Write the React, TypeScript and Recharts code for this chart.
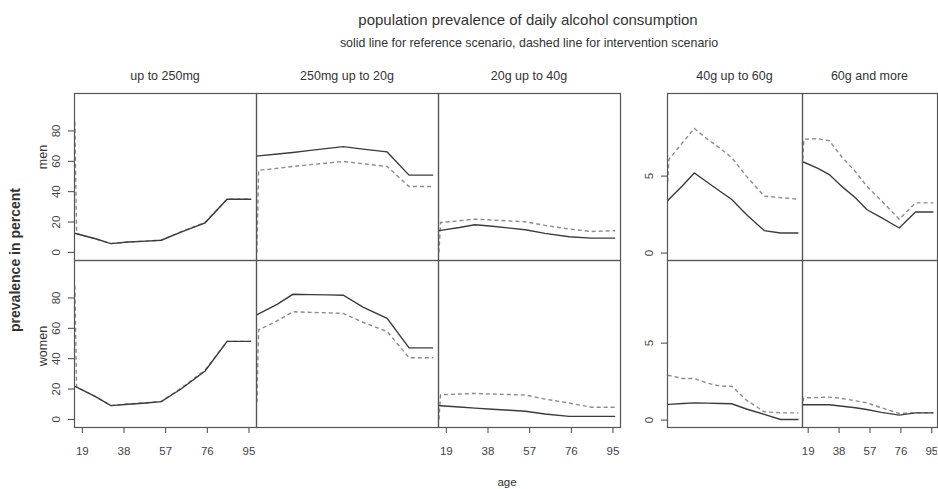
import { Line, LineChart, XAxis, YAxis } from "recharts";

const AGES = [15.6, 16.4, 25, 32, 40, 48, 55, 64, 75, 85, 96];
const AGE_TICKS = [19, 38, 57, 76, 95];
const LOW_TICKS = [0, 20, 40, 60, 80];
const HIGH_TICKS = [0, 5];

const CATEGORIES = [
  "up to 250mg",
  "250mg up to 20g",
  "20g up to 40g",
  "40g up to 60g",
  "60g and more",
];
const SEXES = ["men", "women"];

// up to 250mg
const c1MenRef = [12.5, 12.3, 9, 5.8, 6.9, 7.4, 8, 13.4, 19.5, 35, 35];
const c1MenInt = [86, 12.3, 9, 5.8, 6.9, 7.4, 8, 13.6, 19.8, 35, 35];
const c1WomenRef = [21.7, 21.2, 15, 9.1, 10, 10.8, 11.7, 20, 31.9, 51.4, 51.4];
const c1WomenInt = [88, 21.2, 15, 9.1, 10.2, 11, 11.8, 20.5, 32.5, 51.4, 51.4];

// 250mg up to 20g
const c2MenRef = [63.5, 63.6, 64.8, 65.8, 67.2, 68.5, 69.7, 68, 66.2, 50.9, 50.9];
const c2MenInt = [0, 54.1, 55.4, 56.6, 57.8, 58.9, 59.9, 58.4, 56.6, 43.4, 43.4];
const c2WomenRef = [68.8, 69.5, 76, 82.4, 82.2, 82, 81.8, 74, 66.6, 47.1, 47.1];
const c2WomenInt = [11.3, 59, 65, 70.9, 70.5, 70.2, 69.8, 64, 57.9, 40.6, 40.6];

// 20g up to 40g
const c3MenRef = [14.3, 14.5, 16.4, 18.2, 17.2, 16, 14.9, 12.5, 10.3, 9.4, 9.4];
const c3MenInt = [0, 19.7, 20.8, 21.9, 21.3, 20.7, 20.2, 17.8, 15.4, 13.8, 14.3];
const c3WomenRef = [9.1, 9, 8.2, 7.4, 6.7, 6, 5.4, 3.6, 2, 2, 2];
const c3WomenInt = [0, 16.3, 16.7, 17.1, 16.7, 16.4, 16.1, 13.4, 10.8, 8, 8];

// 40g up to 60g
const c4MenRef = [3.37, 3.5, 4.4, 5.2, 4.6, 4, 3.48, 2.5, 1.46, 1.3, 1.3];
const c4MenInt = [4.6, 6.1, 7.2, 8.1, 7.4, 6.8, 6.2, 5, 3.7, 3.6, 3.5];
const c4WomenRef = [1, 1.02, 1.08, 1.12, 1.1, 1.08, 1.06, 0.72, 0.37, 0.04, 0.04];
const c4WomenInt = [2.9, 2.9, 2.7, 2.7, 2.4, 2.2, 2.2, 1.3, 0.54, 0.47, 0.47];

// 60g and more
const c5MenRef = [5.93, 5.9, 5.5, 5.1, 4.3, 3.6, 2.83, 2.3, 1.63, 2.67, 2.67];
const c5MenInt = [6.1, 7.4, 7.43, 7.3, 6.2, 5.3, 4.35, 3.4, 2.2, 3.26, 3.26];
const c5WomenRef = [1, 1, 1, 1, 0.9, 0.8, 0.69, 0.5, 0.32, 0.47, 0.47];
const c5WomenInt = [1.2, 1.44, 1.47, 1.49, 1.4, 1.25, 1.12, 0.8, 0.43, 0.47, 0.47];

const SERIES = [
  [[c1MenRef, c1MenInt], [c1WomenRef, c1WomenInt]],
  [[c2MenRef, c2MenInt], [c2WomenRef, c2WomenInt]],
  [[c3MenRef, c3MenInt], [c3WomenRef, c3WomenInt]],
  [[c4MenRef, c4MenInt], [c4WomenRef, c4WomenInt]],
  [[c5MenRef, c5MenInt], [c5WomenRef, c5WomenInt]],
];

// layout
const FONT = "'Liberation Sans', Arial, sans-serif";
const COL_X = [74, 256, 438, 667, 802];
const COL_W = [182, 182, 182, 135, 135];
const ROW_Y = [93, 260];
const ROW_H = 167;
const AGE_DOMAIN = [15.2, 98.2];
const LOW_DOMAIN = [-5, 105];
const HIGH_DOMAIN = [-0.45, 10.4];
const AXIS_W = 40;
const AXIS_H = 40;

function Panel({ col, row }: { col: number; row: number }) {
  const showX = row === 1 && (col === 0 || col === 2 || col === 4);
  const showY = col === 0 || col === 3;
  const high = col >= 3;
  const [ref, int] = SERIES[col][row];
  const data = AGES.map((age, i) => ({ age, ref: ref[i], int: int[i] }));
  const width = COL_W[col] + (showY ? AXIS_W : 0);
  const height = ROW_H + (showX ? AXIS_H : 0);

  return (
    <div
      style={{
        position: "absolute",
        left: COL_X[col] - (showY ? AXIS_W : 0),
        top: ROW_Y[row],
      }}
    >
      <LineChart
        width={width}
        height={height}
        data={data}
        margin={{ top: 0, right: 0, bottom: 0, left: 0 }}
      >
        <XAxis
          dataKey="age"
          type="number"
          domain={AGE_DOMAIN}
          ticks={AGE_TICKS}
          interval={0}
          allowDataOverflow
          hide={!showX}
          height={AXIS_H}
          axisLine={false}
          tickSize={6}
          tickMargin={2}
          tickLine={{ stroke: "#444" }}
          tick={(p: any) => (
            <text
              x={p.x}
              y={p.y + 20}
              textAnchor="middle"
              fontSize={11.5}
              fontFamily={FONT}
              fill="#444"
            >
              {p.payload.value}
            </text>
          )}
        />
        <YAxis
          type="number"
          domain={high ? HIGH_DOMAIN : LOW_DOMAIN}
          ticks={high ? HIGH_TICKS : LOW_TICKS}
          interval={0}
          allowDataOverflow
          hide={!showY}
          width={AXIS_W}
          axisLine={false}
          tickSize={6}
          tickMargin={2}
          tickLine={{ stroke: "#444" }}
          tick={(p: any) => (
            <text
              x={p.x - 6}
              y={p.y}
              transform={`rotate(-90 ${p.x - 6} ${p.y})`}
              textAnchor="middle"
              fontSize={11.5}
              fontFamily={FONT}
              fill="#444"
            >
              {p.payload.value}
            </text>
          )}
        />
        <Line
          dataKey="int"
          type="linear"
          stroke="#8c8c8c"
          strokeWidth={1.4}
          strokeDasharray="4 3"
          dot={false}
          isAnimationActive={false}
        />
        <Line
          dataKey="ref"
          type="linear"
          stroke="#3c3c3c"
          strokeWidth={1.4}
          dot={false}
          isAnimationActive={false}
        />
      </LineChart>
    </div>
  );
}

export default function App() {
  return (
    <div
      style={{
        position: "absolute",
        left: 0,
        top: 0,
        width: 938,
        height: 489,
        background: "#fff",
        fontFamily: FONT,
      }}
    >
      {CATEGORIES.map((_, col) =>
        SEXES.map((_, row) => <Panel key={`${col}-${row}`} col={col} row={row} />)
      )}
      <svg
        width={938}
        height={489}
        style={{ position: "absolute", left: 0, top: 0, pointerEvents: "none" }}
        fontFamily={FONT}
      >
        <text x={528} y={25} textAnchor="middle" fontSize={15} fill="#333">
          population prevalence of daily alcohol consumption
        </text>
        <text x={529} y={47} textAnchor="middle" fontSize={12.4} fill="#333">
          solid line for reference scenario, dashed line for intervention scenario
        </text>
        {CATEGORIES.map((c, col) => (
          <text
            key={c}
            x={COL_X[col] + COL_W[col] / 2}
            y={79.5}
            textAnchor="middle"
            fontSize={12.5}
            fill="#333"
          >
            {c}
          </text>
        ))}
        <text x={47} y={157} transform="rotate(-90 47 157)" textAnchor="middle" fontSize={12.5} fill="#333">
          {SEXES[0]}
        </text>
        <text x={47} y={346} transform="rotate(-90 47 346)" textAnchor="middle" fontSize={12.5} fill="#333">
          {SEXES[1]}
        </text>
        <text
          x={20}
          y={260}
          transform="rotate(-90 20 260)"
          textAnchor="middle"
          fontSize={14}
          fontWeight="bold"
          fill="#333"
        >
          prevalence in percent
        </text>
        <text x={507} y={486} textAnchor="middle" fontSize={11.5} fill="#333">
          age
        </text>
        {CATEGORIES.map((c, col) =>
          SEXES.map((s, row) => (
            <rect
              key={`${c}-${s}`}
              x={COL_X[col] + 0.5}
              y={ROW_Y[row] + 0.5}
              width={COL_W[col]}
              height={ROW_H}
              fill="none"
              stroke="#555"
              strokeWidth={1.2}
            />
          ))
        )}
      </svg>
    </div>
  );
}
